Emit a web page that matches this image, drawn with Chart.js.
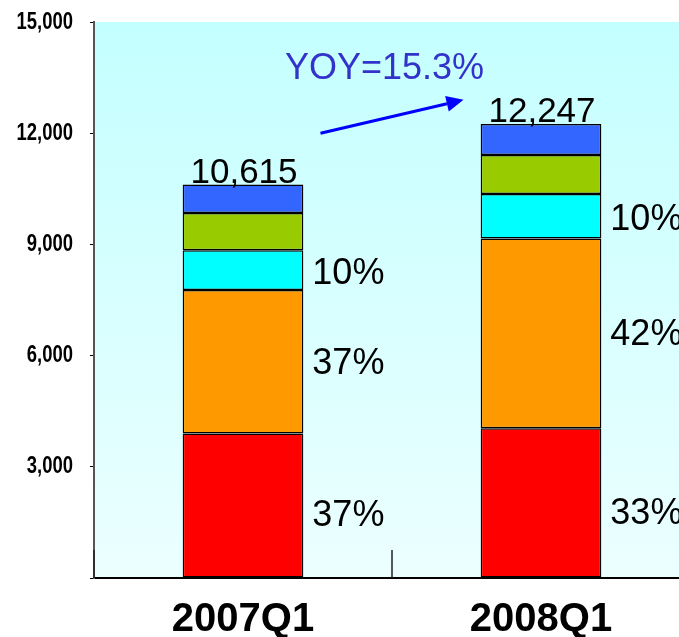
<!DOCTYPE html>
<html><head><meta charset="utf-8">
<script src="https://cdn.jsdelivr.net/npm/chart.js@4"></script>
<style>
html,body{margin:0;padding:0;background:#fff;overflow:hidden;width:679px;height:637px}
#wrap{width:690px;height:637px;position:relative}
</style></head>
<body><div id="wrap"><canvas id="c"></canvas></div>
<script>
const categories = ['2007Q1', '2008Q1'];
const totals = [10615, 12247];
const seriesRed = [3900, 4040];
const seriesOrange = [3870, 5120];
const seriesCyan = [1075, 1200];
const seriesGreen = [1000, 1050];
const seriesBlue = [770, 837];
const pctRed = ['37%', '33%'];
const pctOrange = ['37%', '42%'];
const pctCyan = ['10%', '10%'];
const yTickValues = [0, 3000, 6000, 9000, 12000, 15000];
const yoyText = 'YOY=15.3%';
// annotation anchors in data space: [category position, value]
const yoyAnchor = [0.475, 13720];
const arrowFrom = [0.26, 12000];
const arrowTo = [0.74, 12900];

const FONT = "'Liberation Sans', Arial, sans-serif";

const bgPlugin = {
  id: 'bg',
  beforeDraw(chart) {
    const {ctx, chartArea: a} = chart;
    const g = ctx.createLinearGradient(0, a.top, 0, a.bottom);
    g.addColorStop(0, '#c4ffff');
    g.addColorStop(1, '#ecffff');
    ctx.save();
    ctx.fillStyle = g;
    ctx.fillRect(a.left, a.top, a.right - a.left, a.bottom - a.top);
    ctx.restore();
  }
};

const labelPlugin = {
  id: 'labels',
  afterDatasetsDraw(chart) {
    const {ctx, scales: {x, y}, chartArea: a} = chart;
    ctx.save();
    // y tick labels (condensed bold)
    ctx.fillStyle = '#000';
    ctx.font = 'bold 24px ' + FONT;
    ctx.textAlign = 'right';
    ctx.textBaseline = 'middle';
    y.ticks.forEach(t => {
      if (t.value === 0) return;
      const py = y.getPixelForValue(t.value);
      ctx.save();
      ctx.translate(a.left - 21, py);
      ctx.scale(0.77, 1);
      ctx.fillText(t.value.toLocaleString('en-US'), 0, 0);
      ctx.restore();
    });
    // inner category separators
    const p0 = x.getPixelForValue(0), p1 = x.getPixelForValue(1);
    const cw = p1 - p0;
    ctx.strokeStyle = '#222';
    ctx.lineWidth = 1.5;
    for (let i = 0; i <= categories.length; i++) {
      const xb = p0 - cw / 2 + i * cw;
      ctx.beginPath();
      ctx.moveTo(xb, a.bottom);
      ctx.lineTo(xb, a.bottom - 28);
      ctx.stroke();
    }
    // totals
    const topMeta = chart.getDatasetMeta(4);
    ctx.font = '35px ' + FONT;
    ctx.textAlign = 'center';
    ctx.textBaseline = 'alphabetic';
    topMeta.data.forEach((el, i) => {
      ctx.fillText(totals[i].toLocaleString('en-US'), el.x + 1, el.y - 2);
    });
    // percentages
    const pctSets = [[0, pctRed, 11], [1, pctOrange, 2], [2, pctCyan, 4]];
    ctx.font = '36px ' + FONT;
    ctx.textAlign = 'left';
    ctx.textBaseline = 'middle';
    pctSets.forEach(([di, labels, dy]) => {
      chart.getDatasetMeta(di).data.forEach((el, i) => {
        const cy = (el.y + el.base) / 2;
        ctx.fillText(labels[i], el.x + el.width / 2 + 9, cy + dy);
      });
    });
    // YOY annotation
    const xAt = v => p0 + v * cw;
    ctx.font = '36px ' + FONT;
    ctx.fillStyle = '#3333cc';
    ctx.textAlign = 'center';
    ctx.fillText(yoyText, xAt(yoyAnchor[0]), y.getPixelForValue(yoyAnchor[1]));
    // arrow
    const x1 = xAt(arrowFrom[0]), y1 = y.getPixelForValue(arrowFrom[1]);
    const x2 = xAt(arrowTo[0]), y2 = y.getPixelForValue(arrowTo[1]);
    const ang = Math.atan2(y2 - y1, x2 - x1);
    const hl = 17, hw = 8;
    ctx.strokeStyle = '#0000ff';
    ctx.fillStyle = '#0000ff';
    ctx.lineWidth = 3;
    ctx.beginPath();
    ctx.moveTo(x1, y1);
    ctx.lineTo(x2 - hl * Math.cos(ang), y2 - hl * Math.sin(ang));
    ctx.stroke();
    ctx.beginPath();
    ctx.moveTo(x2, y2);
    ctx.lineTo(x2 - hl * Math.cos(ang) + hw * Math.sin(ang), y2 - hl * Math.sin(ang) - hw * Math.cos(ang));
    ctx.lineTo(x2 - hl * Math.cos(ang) - hw * Math.sin(ang), y2 - hl * Math.sin(ang) + hw * Math.cos(ang));
    ctx.closePath();
    ctx.fill();
    ctx.restore();
  }
};

function ds(label, data, color) {
  return {label, data, backgroundColor: color, borderColor: '#000', borderWidth: 1.5, borderSkipped: false,
          barPercentage: 0.405, categoryPercentage: 1.0};
}

new Chart(document.getElementById('c'), {
  type: 'bar',
  data: {
    labels: categories,
    datasets: [
      ds('Segment 1', seriesRed, '#ff0000'),
      ds('Segment 2', seriesOrange, '#ff9900'),
      ds('Segment 3', seriesCyan, '#00ffff'),
      ds('Segment 4', seriesGreen, '#99cc00'),
      ds('Segment 5', seriesBlue, '#3366ff')
    ]
  },
  options: {
    responsive: true,
    maintainAspectRatio: false,
    devicePixelRatio: 1,
    animation: false,
    layout: {padding: {top: 22, left: 0, right: 0, bottom: 0}},
    plugins: {legend: {display: false}, tooltip: {enabled: false}},
    scales: {
      x: {
        stacked: true,
        offset: true,
        grid: {display: true, drawOnChartArea: false, drawTicks: false},
        border: {display: true, color: '#000', width: 2},
        ticks: {color: '#000', font: {family: FONT, size: 40, weight: 'bold'}, padding: 18},
        afterFit(s) { s.height = 59; }
      },
      y: {
        stacked: true,
        min: 0,
        max: 15000,
        afterBuildTicks(s) { s.ticks = yTickValues.map(v => ({value: v})); },
        grid: {drawOnChartArea: false, tickLength: 4, color: '#000'},
        border: {display: true, color: '#555', width: 2},
        ticks: {display: false},
        afterFit(s) { s.width = 94; }
      }
    }
  },
  plugins: [bgPlugin, labelPlugin]
});
</script>
</body></html>
